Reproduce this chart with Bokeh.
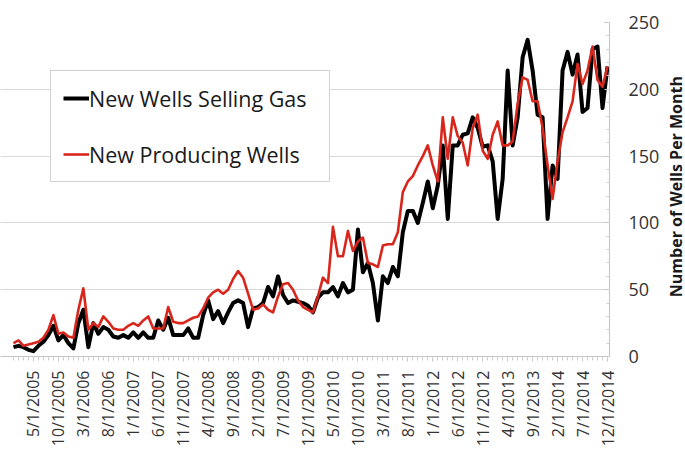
import math
from bokeh.plotting import figure
from bokeh.layouts import row
from bokeh.models import Range1d, FixedTicker, Legend, LegendItem, Label
from bokeh.embed import file_html
from bokeh.resources import INLINE

# Monthly index: 0 = Jan 2005 ... 119 = Dec 2014
months = list(range(120))

selling_gas = [
    7, 8, 7, 5, 4, 8, 11, 16, 23, 12, 16, 10, 6, 25, 35, 7, 25, 17, 22,
    20, 15, 14, 16, 14, 18, 14, 18, 14, 14, 27, 20, 29, 16, 16, 16, 21, 14, 14, 31, 42,
    28, 34, 25, 33, 40, 42, 40, 22, 36, 37, 40, 52, 45, 60, 46, 40, 42, 41, 40, 38,
    33, 44, 48, 48, 52, 45, 55, 48, 50, 95, 63, 70, 55, 27, 60, 55, 67, 60, 93, 109, 109, 100,
    115, 131, 111, 128, 158, 103, 158, 158, 166, 167, 179, 171, 157, 158, 146, 103, 133, 214,
    158, 179, 224, 237, 214, 181, 179, 103, 143, 133, 214, 228, 211, 226, 183, 186, 230, 232,
    186, 217,
]

producing = [
    10, 12, 8, 9, 10, 11, 14, 20, 31, 17, 18, 15, 14, 35, 51, 20, 25, 22, 30,
    26, 21, 20, 20, 23, 25, 23, 27, 30, 21, 21, 21, 37, 26, 25, 25, 27, 29, 30, 36, 44,
    48, 50, 47, 50, 58, 64, 59, 47, 35, 36, 39, 35, 33, 45, 54, 55, 50, 42, 37, 35,
    33, 45, 59, 55, 97, 75, 75, 94, 79, 86, 89, 70, 69, 67, 83, 84, 84, 93, 123, 131, 135, 143,
    150, 158, 143, 131, 179, 148, 179, 165, 160, 143, 171, 181, 154, 148, 166, 176, 158, 158,
    161, 189, 209, 207, 191, 191, 171, 143, 118, 146, 168, 179, 191, 219, 204, 214, 232, 207,
    202, 217,
]

tick_months = [4, 9, 14, 19, 24, 29, 34, 39, 44, 49, 54, 59, 64, 69, 74, 79,
               84, 89, 94, 99, 104, 109, 114, 119]
tick_labels = ["5/1/2005", "10/1/2005", "3/1/2006", "8/1/2006", "1/1/2007", "6/1/2007",
               "11/1/2007", "4/1/2008", "9/1/2008", "2/1/2009", "7/1/2009", "12/1/2009",
               "5/1/2010", "10/1/2010", "3/1/2011", "8/1/2011", "1/1/2012", "6/1/2012",
               "11/1/2012", "4/1/2013", "9/1/2013", "2/1/2014", "7/1/2014", "12/1/2014"]
y_ticks = [0, 50, 100, 150, 200, 250]
y_minor = list(range(0, 251, 10))
y_title = "Number of Wells Per Month"

FONT = "Open Sans"

p = figure(width=662, height=458, output_backend="svg", toolbar_location=None,
           x_range=Range1d(-2.6, 119.4), y_range=Range1d(0, 250),
           y_axis_location="right",
           min_border_left=0, min_border_top=22, min_border_right=52, min_border_bottom=102)
p.outline_line_color = None
p.background_fill_color = "white"

r_black = p.line(months, selling_gas, line_color="#000000", line_width=4, line_join="round")
r_red = p.line(months, producing, line_color="#d9261c", line_width=2.6, line_join="round")

# grids
p.xgrid.visible = False
p.ygrid.ticker = FixedTicker(ticks=y_ticks)
p.ygrid.grid_line_color = "#d9d9d9"
p.ygrid.grid_line_width = 1

# x axis
xa = p.xaxis[0]
xa.ticker = FixedTicker(ticks=tick_months, minor_ticks=months)
xa.major_label_overrides = {m: l for m, l in zip(tick_months, tick_labels)}
xa.major_label_orientation = math.pi / 2
xa.axis_line_color = "#c4c4c4"
xa.major_tick_line_color = "#c4c4c4"
xa.minor_tick_line_color = "#cfcfcf"
xa.major_tick_out = 5
xa.major_tick_in = 0
xa.minor_tick_out = 4
xa.minor_tick_in = 0
xa.major_label_standoff = 9
xa.major_label_text_font = FONT
xa.major_label_text_font_size = "16px"
xa.major_label_text_color = "#333333"

# y axis (right)
ya = p.yaxis[0]
ya.ticker = FixedTicker(ticks=y_ticks, minor_ticks=y_minor)
ya.axis_line_color = "#c4c4c4"
ya.major_tick_line_color = "#c4c4c4"
ya.minor_tick_line_color = "#cfcfcf"
ya.major_tick_in = 5
ya.major_tick_out = 0
ya.minor_tick_in = 3
ya.minor_tick_out = 0
ya.major_label_standoff = 19
ya.major_label_text_font = FONT
ya.major_label_text_font_size = "18px"
ya.major_label_text_color = "#333333"

legend = Legend(items=[LegendItem(label="New Wells Selling Gas", renderers=[r_black]),
                       LegendItem(label="New Producing Wells", renderers=[r_red])],
                location=(50, 174))
legend.border_line_color = "#a6a6a6"
legend.border_line_width = 1.5
legend.background_fill_color = "white"
legend.background_fill_alpha = 1.0
legend.label_text_font = FONT
legend.label_text_font_size = "21.5px"
legend.label_text_color = "#1a1a1a"
legend.glyph_width = 26
legend.glyph_height = 30
legend.label_height = 30
legend.label_width = 228
legend.label_standoff = 0
legend.spacing = 26
legend.padding = 12
legend.margin = 0
p.add_layout(legend)

# thin companion figure holding the rotated axis title (reads bottom to top)
t = figure(width=23, height=458, output_backend="svg", toolbar_location=None,
           x_range=Range1d(0, 23), y_range=Range1d(0, 458),
           x_axis_type=None, y_axis_type=None,
           min_border_left=0, min_border_right=0, min_border_top=0, min_border_bottom=0)
t.outline_line_color = None
t.xgrid.visible = False
t.ygrid.visible = False
t.add_layout(Label(x=13, y=233, text=y_title, angle=math.pi / 2,
                   text_align="center", text_baseline="middle",
                   text_font=FONT, text_font_style="bold", text_font_size="16px",
                   text_color="#1a1a1a"))

layout = row(p, t)
open("out.html", "w").write(file_html(layout, INLINE))
